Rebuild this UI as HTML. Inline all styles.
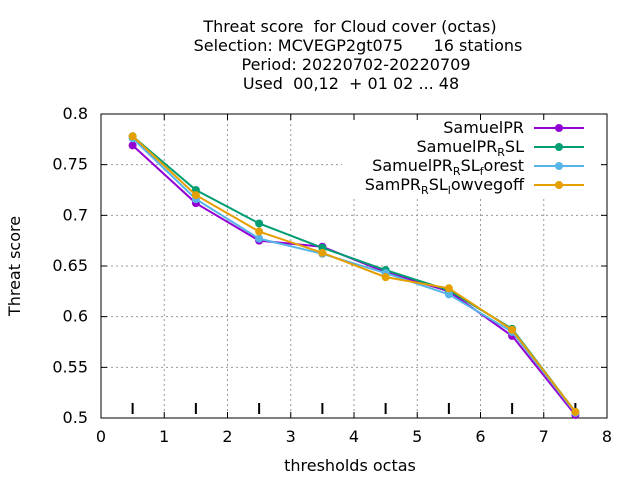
<!DOCTYPE html>
<html><head><meta charset="utf-8"><style>
body{margin:0;background:#fff;}
svg{font-family:"DejaVu Sans","Liberation Sans",sans-serif;}
text{white-space:pre;}
</style></head><body>
<svg id="chart" width="640" height="480">
<g font-size="16" text-anchor="middle" fill="#000" xml:space="preserve">
<text x="350" y="32">Threat score  for Cloud cover (octas)</text>
<text x="358" y="51">Selection: MCVEGP2gt075      16 stations</text>
<text x="356" y="70">Period: 20220702-20220709</text>
<text x="351" y="89">Used  00,12  + 01 02 ... 48</text>
</g>
<g id="grid"></g>
<g id="axes"></g>
<text x="350" y="471" font-size="16" text-anchor="middle">thresholds octas</text>
<text transform="translate(20,266) rotate(-90)" font-size="16" text-anchor="middle">Threat score</text>
<g id="series"></g>
<g id="legend" font-size="16" text-anchor="end"></g>
</svg>
<script>
const thresholds=[0.5,1.5,2.5,3.5,4.5,5.5,6.5,7.5];
const samuelPR=[0.769,0.712,0.675,0.669,0.644,0.625,0.581,0.503];
const samuelPRRSL=[0.778,0.725,0.692,0.668,0.646,0.626,0.588,0.506];
const samuelPRRSLforest=[0.776,0.716,0.677,0.662,0.643,0.622,0.585,0.505];
const samPRRSLlowvegoff=[0.778,0.720,0.684,0.663,0.639,0.628,0.587,0.506];
const xTicks=[0,1,2,3,4,5,6,7,8];
const yTicks=[0.5,0.55,0.6,0.65,0.7,0.75,0.8];
const yTickLabels=["0.5","0.55","0.6","0.65","0.7","0.75","0.8"];
const L=101,R=607,T=114,B=418;
function X(v){return L+(v-0)/8*(R-L);}
function Y(v){return B-(v-0.5)/0.3*(B-T);}
const NS="http://www.w3.org/2000/svg";
function mk(p,tag,attrs){const e=document.createElementNS(NS,tag);for(const k in attrs)e.setAttribute(k,attrs[k]);p.appendChild(e);return e;}
const grid=document.getElementById('grid'),axes=document.getElementById('axes');
xTicks.forEach(t=>{
 if(t>0&&t<8){const g=mk(grid,'line',{x1:X(t),x2:X(t),y1:T,y2:B,stroke:'#999','stroke-dasharray':'2,3'});
 
 }
 mk(axes,'line',{x1:X(t),x2:X(t),y1:B,y2:B-6,stroke:'#000'});
 mk(axes,'line',{x1:X(t),x2:X(t),y1:T,y2:T+6,stroke:'#000'});
 const tx=mk(axes,'text',{x:X(t),y:B+24,'font-size':16,'text-anchor':'middle'});tx.textContent=t;
 
 
});
yTicks.forEach((t,i)=>{
 if(i>0&&i<yTicks.length-1){const g=mk(grid,'line',{x1:L,x2:R,y1:Y(t),y2:Y(t),stroke:'#999','stroke-dasharray':'2,3'});
 
 }
 mk(axes,'line',{x1:L,x2:L+6,y1:Y(t),y2:Y(t),stroke:'#000'});
 mk(axes,'line',{x1:R,x2:R-6,y1:Y(t),y2:Y(t),stroke:'#000'});
 const tx=mk(axes,'text',{x:L-13,y:Y(t)+5,'font-size':16,'text-anchor':'end'});tx.textContent=yTickLabels[i];
 
 
});
thresholds.forEach(t=>{const m=mk(axes,'line',{x1:X(t),x2:X(t),y1:B-15,y2:B-4,stroke:'#000','stroke-width':2});
 
 });
mk(axes,'rect',{x:L,y:T,width:R-L,height:B-T,fill:'none',stroke:'#000'});
mk(grid,'rect',{x:342,y:118,width:258,height:80,fill:'#fff'});
const seriesDefs=[
 {vals:samuelPR,color:'#9400d3',name:'samuelpr'},
 {vals:samuelPRRSL,color:'#009e73',name:'samuelpr-rsl'},
 {vals:samuelPRRSLforest,color:'#56b4e9',name:'samuelpr-rsl-forest'},
 {vals:samPRRSLlowvegoff,color:'#e69f00',name:'sampr-rsl-lowvegoff'}];
const sg=document.getElementById('series');
seriesDefs.forEach(s=>{
 const g=mk(sg,'g',{});
 
 
 mk(g,'polyline',{points:s.vals.map((v,i)=>X(thresholds[i])+','+Y(v)).join(' '),fill:'none',stroke:s.color,'stroke-width':2});
 s.vals.forEach((v,i)=>{const c=mk(g,'circle',{cx:X(thresholds[i]),cy:Y(v),r:4,fill:s.color});
 
 });
});
const lg=document.getElementById('legend');
const labels=['SamuelPR','SamuelPR<tspan font-size="11" dy="4">R</tspan><tspan dy="-4">SL</tspan>','SamuelPR<tspan font-size="11" dy="4">R</tspan><tspan dy="-4">SL</tspan><tspan font-size="11" dy="4">f</tspan><tspan dy="-4">orest</tspan>','SamPR<tspan font-size="11" dy="4">R</tspan><tspan dy="-4">SL</tspan><tspan font-size="11" dy="4">l</tspan><tspan dy="-4">owvegoff</tspan>'];
seriesDefs.forEach((s,i)=>{
 const y=128+i*19;
 const e=mk(lg,'g',{});
 
 
 const t=mk(e,'text',{x:524,y:y+5});t.innerHTML=labels[i];
 mk(e,'line',{x1:534,x2:584,y1:y,y2:y,stroke:s.color,'stroke-width':2});
 mk(e,'circle',{cx:559,cy:y,r:4,fill:s.color});
});
</script>
</body></html>
